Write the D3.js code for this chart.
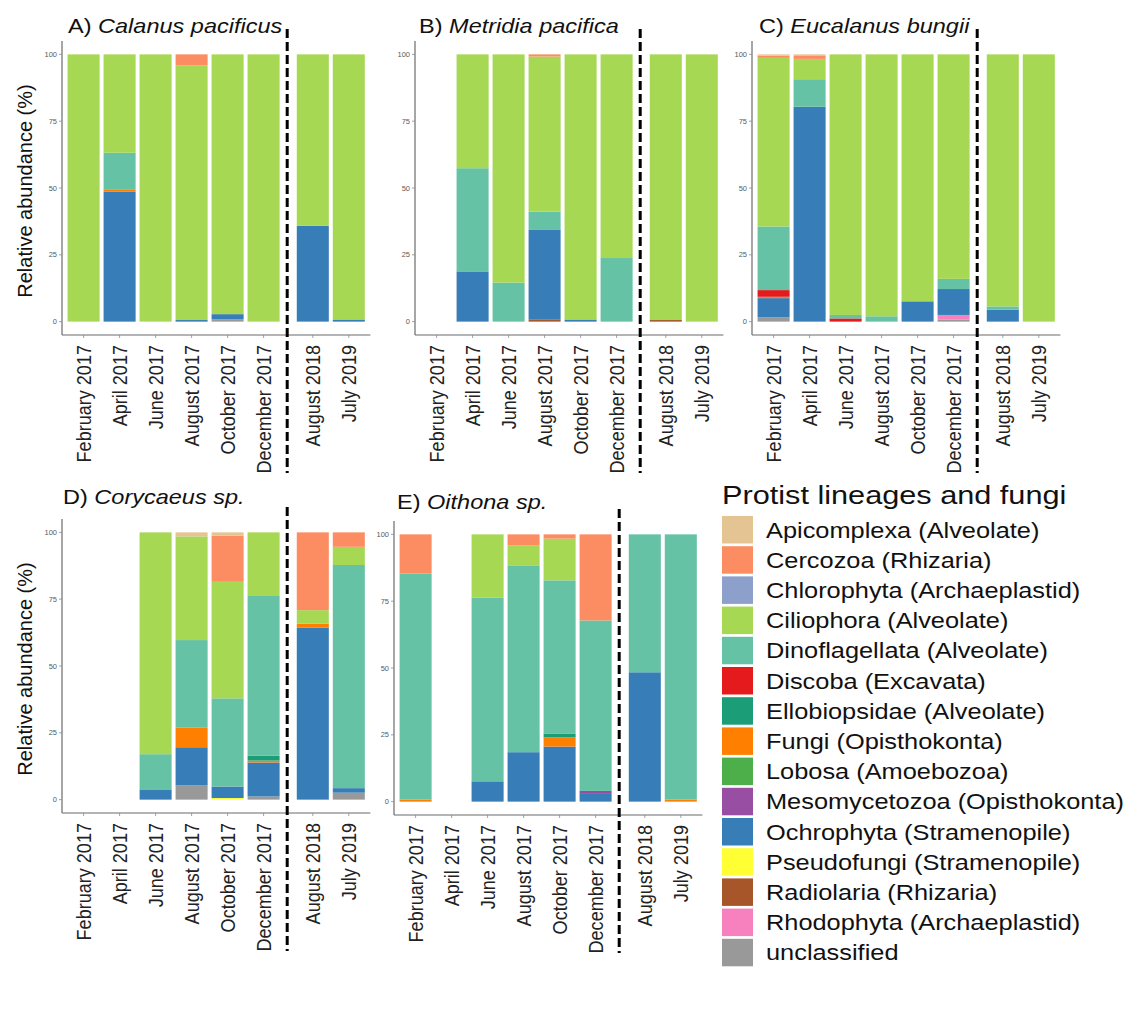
<!DOCTYPE html>
<html>
<head>
<meta charset="utf-8">
<script src="https://cdn.jsdelivr.net/npm/d3@7"></script>
<style>
  html, body { margin: 0; padding: 0; background: #fff; }
  svg { display: block; font-family: "Liberation Sans", Arial, Helvetica, sans-serif; }
</style>
</head>
<body>
<svg id="chart" width="1126" height="1026"></svg>
<script>
// Sampling months (first six in 2017, then two later cruises)
const months = ["February 2017", "April 2017", "June 2017", "August 2017",
                "October 2017", "December 2017", "August 2018", "July 2019"];

// Lineages in legend order (first entry stacks on top)
const lineages = [
  "Apicomplexa (Alveolate)", "Cercozoa (Rhizaria)", "Chlorophyta (Archaeplastid)",
  "Ciliophora (Alveolate)", "Dinoflagellata (Alveolate)", "Discoba (Excavata)",
  "Ellobiopsidae (Alveolate)", "Fungi (Opisthokonta)", "Lobosa (Amoebozoa)",
  "Mesomycetozoa (Opisthokonta)", "Ochrophyta (Stramenopile)", "Pseudofungi (Stramenopile)",
  "Radiolaria (Rhizaria)", "Rhodophyta (Archaeplastid)", "unclassified"
];
const lineageKeys = ["Apicomplexa", "Cercozoa", "Chlorophyta", "Ciliophora", "Dinoflagellata",
  "Discoba", "Ellobiopsidae", "Fungi", "Lobosa", "Mesomycetozoa", "Ochrophyta",
  "Pseudofungi", "Radiolaria", "Rhodophyta", "unclassified"];
const lineageColors = ["#E5C494", "#FC8D62", "#8DA0CB", "#A6D854", "#66C2A5", "#E41A1C",
  "#1B9E77", "#FF7F00", "#4DAF4A", "#984EA3", "#377EB8", "#FFFF33", "#A65628", "#F781BF", "#999999"];

// Relative abundance (%) per copepod host and month
const calanus = [
  { month: "February 2017", Ciliophora: 100 },
  { month: "April 2017", Ochrophyta: 48.7, Fungi: 0.6, Dinoflagellata: 13.9, Ciliophora: 36.8 },
  { month: "June 2017", Ciliophora: 100 },
  { month: "August 2017", Ochrophyta: 0.6, Ciliophora: 95.3, Cercozoa: 4.1 },
  { month: "October 2017", unclassified: 0.9, Ochrophyta: 1.9, Ciliophora: 97.2 },
  { month: "December 2017", Ciliophora: 100 },
  { month: "August 2018", Ochrophyta: 35.9, Ciliophora: 64.1 },
  { month: "July 2019", Ochrophyta: 0.8, Ciliophora: 99.2 }
];
const metridia = [
  { month: "April 2017", Ochrophyta: 18.8, Dinoflagellata: 38.6, Ciliophora: 42.6 },
  { month: "June 2017", Dinoflagellata: 14.6, Ciliophora: 85.4 },
  { month: "August 2017", Ochrophyta: 33.6, Radiolaria: 0.7, Dinoflagellata: 6.9, Ciliophora: 58.0, Cercozoa: 0.8 },
  { month: "October 2017", Ochrophyta: 0.8, Ciliophora: 99.2 },
  { month: "December 2017", Dinoflagellata: 23.8, Ciliophora: 76.2 },
  { month: "August 2018", Radiolaria: 0.6, Ciliophora: 99.4 },
  { month: "July 2019", Ciliophora: 100 }
];
const eucalanus = [
  { month: "February 2017", unclassified: 1.6, Ochrophyta: 7.2, Fungi: 0.5, Discoba: 2.5,
    Dinoflagellata: 23.8, Ciliophora: 63.1, Cercozoa: 0.8, Apicomplexa: 0.5 },
  { month: "April 2017", Ochrophyta: 80.4, Dinoflagellata: 10.3, Ciliophora: 7.6, Cercozoa: 1.1, Apicomplexa: 0.6 },
  { month: "June 2017", Discoba: 1.2, Dinoflagellata: 1.3, Ciliophora: 97.5 },
  { month: "August 2017", Dinoflagellata: 2.0, Ciliophora: 98.0 },
  { month: "October 2017", Ochrophyta: 7.6, Ciliophora: 92.4 },
  { month: "December 2017", unclassified: 0.7, Rhodophyta: 1.8, Ochrophyta: 9.7, Dinoflagellata: 3.8, Ciliophora: 84.0 },
  { month: "August 2018", Ochrophyta: 4.5, Dinoflagellata: 1.2, Ciliophora: 94.3 },
  { month: "July 2019", Ciliophora: 100 }
];
const corycaeus = [
  { month: "June 2017", Ochrophyta: 3.6, Dinoflagellata: 13.4, Ciliophora: 83.0 },
  { month: "August 2017", unclassified: 5.3, Ochrophyta: 14.3, Fungi: 7.3, Dinoflagellata: 32.8,
    Ciliophora: 38.8, Apicomplexa: 1.5 },
  { month: "October 2017", Pseudofungi: 0.6, Ochrophyta: 4.3, Dinoflagellata: 33.0, Ciliophora: 43.6,
    Cercozoa: 17.3, Apicomplexa: 1.2 },
  { month: "December 2017", unclassified: 1.2, Ochrophyta: 12.7, Fungi: 0.7, Dinoflagellata: 59.8,
    Ciliophora: 23.8, Ellobiopsidae: 1.8 },
  { month: "August 2018", Ochrophyta: 64.4, Fungi: 1.4, Ciliophora: 5.1, Cercozoa: 29.1 },
  { month: "July 2019", unclassified: 2.6, Ochrophyta: 1.7, Dinoflagellata: 83.5, Ciliophora: 6.8, Cercozoa: 5.4 }
];
const oithona = [
  { month: "February 2017", Fungi: 0.8, Dinoflagellata: 84.5, Cercozoa: 14.7 },
  { month: "June 2017", Ochrophyta: 7.6, Dinoflagellata: 68.8, Ciliophora: 23.6 },
  { month: "August 2017", Ochrophyta: 18.5, Dinoflagellata: 69.9, Ciliophora: 7.4, Cercozoa: 4.2 },
  { month: "October 2017", Ochrophyta: 20.6, Fungi: 3.5, Dinoflagellata: 57.3, Ciliophora: 15.6,
    Cercozoa: 1.6, Ellobiopsidae: 1.4 },
  { month: "December 2017", Ochrophyta: 3.2, Mesomycetozoa: 0.8, Dinoflagellata: 63.8, Cercozoa: 32.2 },
  { month: "August 2018", Ochrophyta: 48.4, Dinoflagellata: 51.6 },
  { month: "July 2019", Fungi: 0.8, Dinoflagellata: 99.2 }
];

const yTicks = [0, 25, 50, 75, 100];

const panels = [
  { letter: "A)", species: "Calanus pacificus", data: calanus, x0: 62, yTop: 41, yBot: 335, ylab: true, tx: 68, ty: 33 },
  { letter: "B)", species: "Metridia pacifica", data: metridia, x0: 415, yTop: 41, yBot: 335, ylab: false, tx: 419, ty: 33 },
  { letter: "C)", species: "Eucalanus bungii", data: eucalanus, x0: 752, yTop: 41, yBot: 335, ylab: false, tx: 759, ty: 33 },
  { letter: "D)", species: "Corycaeus sp.", data: corycaeus, x0: 62, yTop: 519, yBot: 813, ylab: true, tx: 63, ty: 504 },
  { letter: "E)", species: "Oithona sp.", data: oithona, x0: 394, yTop: 521, yBot: 815, ylab: false, tx: 397, ty: 509 }
];

const svg = d3.select("#chart");
const color = d3.scaleOrdinal().domain(lineageKeys).range(lineageColors);
// stack from the bottom: last legend entry first
const stack = d3.stack().keys(lineageKeys.slice().reverse()).value((d, k) => d[k] || 0);

const step = 36;
const pIn = 0.11, pOut = 0.6 - (1 - pIn) / 2;
const leftW = step * (6 - pIn + 2 * pOut);
const rightW = step * (2 - pIn + 2 * pOut);
const facetGap = 6;

panels.forEach(p => {
  const g = svg.append("g");
  const xLeft = d3.scaleBand().domain(months.slice(0, 6))
    .range([p.x0, p.x0 + leftW]).paddingInner(pIn).paddingOuter(pOut);
  const xRight = d3.scaleBand().domain(months.slice(6))
    .range([p.x0 + leftW + facetGap, p.x0 + leftW + facetGap + rightW]).paddingInner(pIn).paddingOuter(pOut);
  const xPos = m => (xLeft.domain().includes(m) ? xLeft(m) : xRight(m));
  const bw = xLeft.bandwidth();
  const xEnd = p.x0 + leftW + facetGap + rightW;
  const y = d3.scaleLinear().domain([-5, 105]).range([p.yBot, p.yTop]);

  // stacked bars
  const series = stack(p.data);
  g.selectAll("g.layer").data(series).join("g")
    .attr("fill", d => color(d.key))
    .selectAll("rect").data(d => d.filter(v => v[1] - v[0] > 0)).join("rect")
    .attr("x", d => xPos(d.data.month))
    .attr("width", bw)
    .attr("y", d => y(d[1]))
    .attr("height", d => y(d[0]) - y(d[1]));

  // axes lines
  g.append("line").attr("x1", p.x0).attr("x2", p.x0).attr("y1", p.yTop).attr("y2", p.yBot)
    .attr("stroke", "#6b6b6b").attr("stroke-width", 1.2);
  g.append("line").attr("x1", p.x0).attr("x2", xEnd).attr("y1", p.yBot).attr("y2", p.yBot)
    .attr("stroke", "#6b6b6b").attr("stroke-width", 1.2);

  // y ticks and labels
  yTicks.forEach(t => {
    g.append("line").attr("x1", p.x0 - 3).attr("x2", p.x0).attr("y1", y(t)).attr("y2", y(t))
      .attr("stroke", "#8a8a8a").attr("stroke-width", 0.8);
    g.append("text").attr("x", p.x0 - 5).attr("y", y(t)).attr("dy", "0.35em")
      .attr("text-anchor", "end").attr("font-size", 7.5).attr("fill", "#5a5a5a").text(t);
  });

  // x ticks and rotated month labels (slightly condensed along the text)
  months.forEach(m => {
    const cx = xPos(m) + bw / 2;
    g.append("line").attr("x1", cx).attr("x2", cx).attr("y1", p.yBot).attr("y2", p.yBot + 3)
      .attr("stroke", "#8a8a8a").attr("stroke-width", 0.8);
    g.append("text")
      .attr("transform", `translate(${cx},${p.yBot + 10}) rotate(-90) scale(0.86,1)`)
      .attr("dy", "0.35em").attr("text-anchor", "end")
      .attr("font-size", 21).attr("fill", "#222").text(m);
  });

  // dashed separator between 2017 and later cruises
  const dx = p.x0 + leftW + facetGap / 2 - 1;
  g.append("line").attr("x1", dx).attr("x2", dx).attr("y1", p.yTop - 12).attr("y2", p.yBot + 138)
    .attr("stroke", "#000").attr("stroke-width", 3).attr("stroke-dasharray", "9,4");

  // panel title
  const t = g.append("text").attr("transform", `translate(${p.tx},${p.ty}) scale(1.12,1)`)
    .attr("font-size", 21).attr("fill", "#111");
  t.append("tspan").text(p.letter + " ");
  t.append("tspan").attr("font-style", "italic").text(p.species);

  // y-axis title
  if (p.ylab) {
    g.append("text")
      .attr("transform", `translate(25,${(p.yTop + p.yBot) / 2 + 3}) rotate(-90)`)
      .attr("dy", "0.35em").attr("text-anchor", "middle")
      .attr("font-size", 20).attr("fill", "#111").text("Relative abundance (%)");
  }
});

// legend
const lg = svg.append("g");
lg.append("text").attr("transform", "translate(722,504) scale(1.18,1)")
  .attr("font-size", 26).attr("fill", "#111").text("Protist lineages and fungi");
const rowStep = 30.2;
lineages.forEach((name, i) => {
  const top = 516 + i * rowStep;
  lg.append("rect").attr("x", 722).attr("y", top).attr("width", 31).attr("height", 27.5)
    .attr("fill", color(lineageKeys[i]));
  lg.append("text").attr("transform", `translate(766,${top + 14}) scale(1.18,1)`)
    .attr("dy", "0.35em").attr("font-size", 21.5).attr("fill", "#111").text(name);
});
</script>
</body>
</html>
